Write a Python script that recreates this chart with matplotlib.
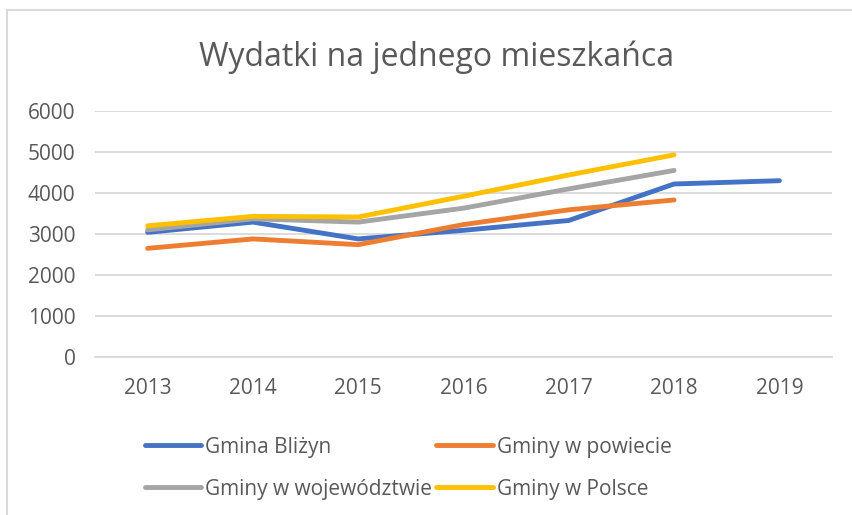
import matplotlib
matplotlib.use("Agg")
import matplotlib.pyplot as plt
from matplotlib.lines import Line2D

years = ["2013", "2014", "2015", "2016", "2017", "2018", "2019"]
gmina_blizyn = [3040, 3290, 2880, 3090, 3330, 4220, 4300]
gminy_powiat = [2650, 2880, 2740, 3230, 3590, 3830]
gminy_woj = [3100, 3370, 3290, 3630, 4100, 4550]
gminy_polska = [3200, 3430, 3415, 3920, 4440, 4930]
series_names = ["Gmina Bliżyn", "Gminy w powiecie", "Gminy w województwie", "Gminy w Polsce"]
yticks = [0, 1000, 2000, 3000, 4000, 5000, 6000]

colors = ["#4472C4", "#ED7D31", "#A5A5A5", "#FFC000"]
txt = "#595959"
grid = "#D9D9D9"

plt.rcParams['font.family'] = ['Open Sans', 'DejaVu Sans']

fig = plt.figure(figsize=(8.52, 5.15), dpi=100)
ax = fig.add_axes([95/852, 1-357/515, (832-95)/852, (357-111)/515])

x = list(range(len(years)))
data = [gmina_blizyn, gminy_powiat, gminy_woj, gminy_polska]
lines = []
for vals, c, name in zip(data, colors, series_names):
    l, = ax.plot(x[:len(vals)], vals, color=c, lw=3.5, solid_capstyle='round',
                 solid_joinstyle='round', label=name, zorder=3)
    lines.append(l)

ax.set_xlim(-0.5, len(years) - 0.5)
ax.set_ylim(0, 6000)
ax.set_yticks(yticks)
ax.set_yticklabels([str(v) for v in yticks])
ax.set_xticks(x)
ax.set_xticklabels(years)
ax.yaxis.grid(True, color=grid, lw=1.3)
ax.set_axisbelow(True)
for s in ax.spines.values():
    s.set_visible(False)
ax.spines['bottom'].set_visible(True)
ax.spines['bottom'].set_color(grid)
ax.spines['bottom'].set_linewidth(1.3)
ax.tick_params(axis='both', length=0, labelsize=15, labelcolor=txt)
ax.tick_params(axis='y', pad=14)
ax.tick_params(axis='x', pad=15)

fig.text(437/852, 1-57/515, "Wydatki na jednego mieszkańca", ha='center', va='center',
         fontsize=23, color=txt)

order = [0, 2, 1, 3]
leg = fig.legend([lines[i] for i in order], [series_names[i] for i in order],
                 ncol=2, loc='upper left', bbox_to_anchor=(128/852, 1-420/515),
                 frameon=False, fontsize=15, handlelength=2.7, handletextpad=0.2,
                 columnspacing=0.2, labelspacing=1.0, labelcolor=txt,
                 borderpad=0.3)

# chart border (top and left edges visible)
fig.add_artist(Line2D([7/852, 7/852], [0, 1-10/515], transform=fig.transFigure, color="#D9D9D9", lw=1.5))
fig.add_artist(Line2D([7/852, 1], [1-10/515, 1-10/515], transform=fig.transFigure, color="#D9D9D9", lw=1.5))

fig.savefig("out.png", dpi=100)
